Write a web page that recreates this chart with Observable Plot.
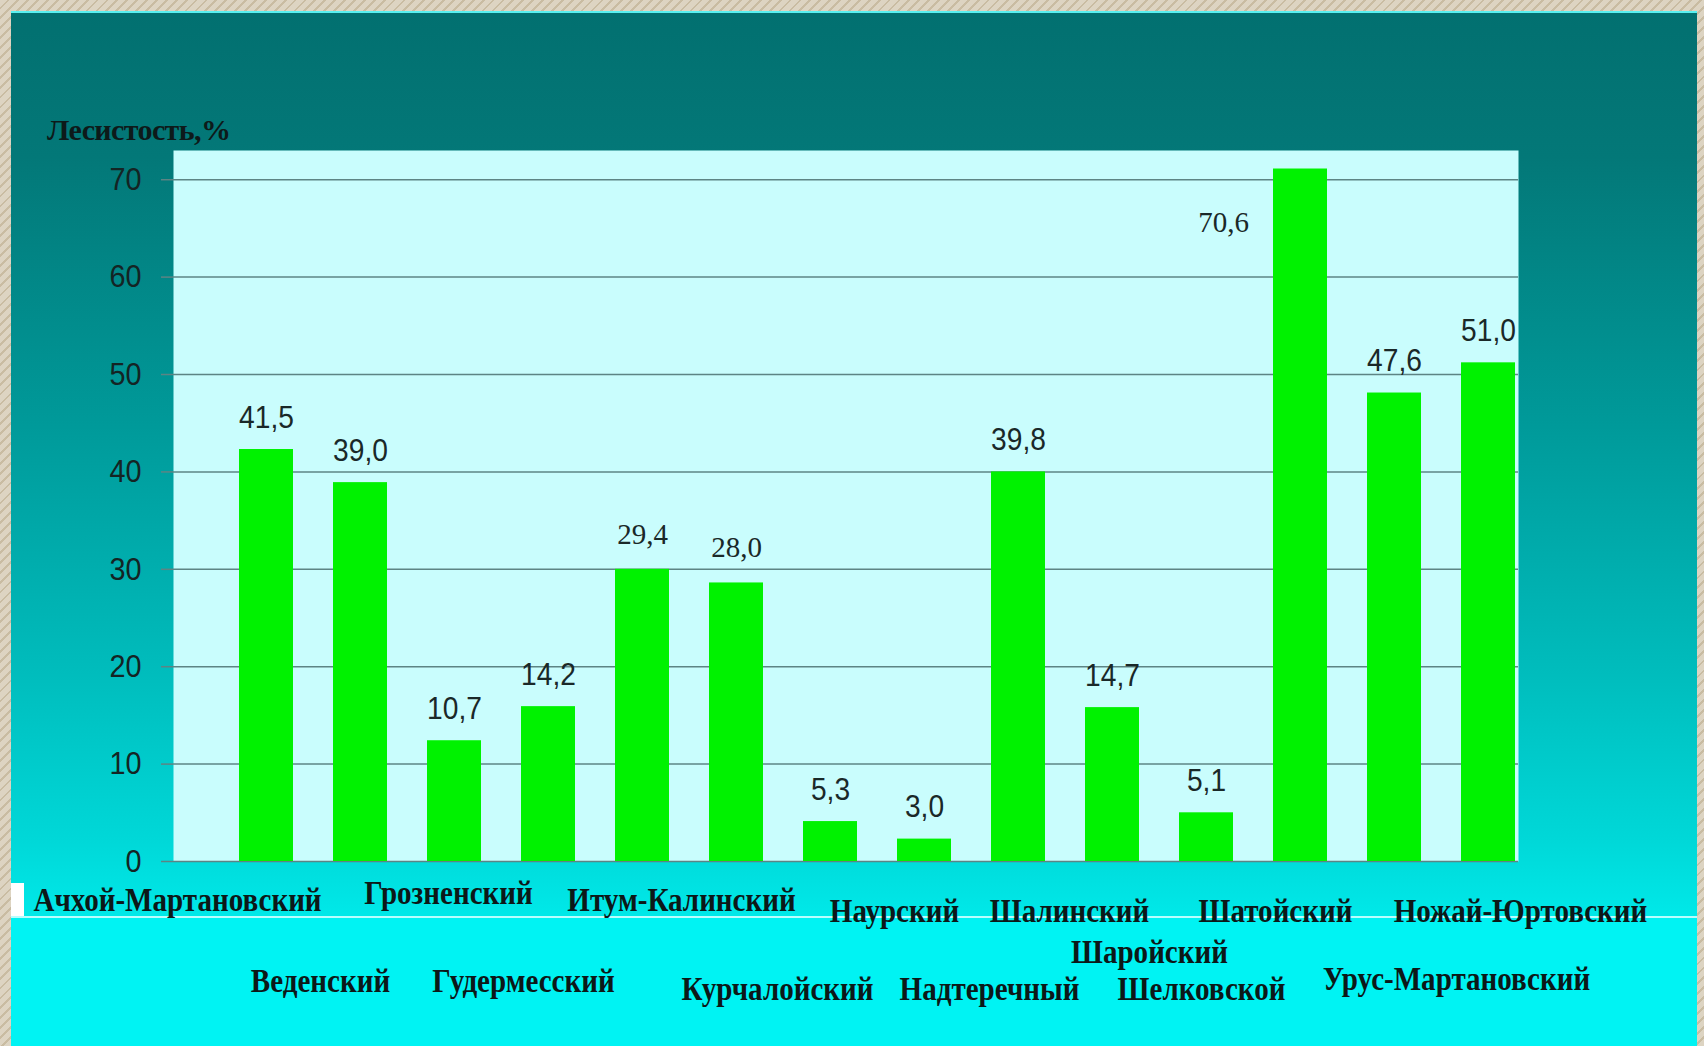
<!DOCTYPE html>
<html>
<head>
<meta charset="utf-8">
<script src="https://cdn.jsdelivr.net/npm/d3@7"></script>
<script src="https://cdn.jsdelivr.net/npm/@observablehq/plot@0.6"></script>
<style>
  html, body { margin: 0; padding: 0; }
  body {
    width: 1704px; height: 1046px; overflow: hidden; position: relative;
    background: repeating-linear-gradient(135deg, #ddd4c2 0px, #ddd4c2 5px, #c9bca2 5px, #c9bca2 7px);
  }
  #panel {
    position: absolute; left: 11px; top: 11px; width: 1686px; height: 1035px;
    background: linear-gradient(180deg, #027070 0%, #037878 14%, #009a9a 40%, #00bdbd 64%, #00d8d8 80%, #00e8e8 87%);
    border-top: 2px solid rgba(255,255,255,0.35);
  }
  #band {
    position: absolute; left: 11px; top: 916px; width: 1686px; height: 130px;
    background: #00f3f3; border-top: 2px solid rgba(230,255,255,0.8);
  }
  #chip { position: absolute; left: 11px; top: 883px; width: 13px; height: 33px; background: #ffffff; }
  #ytitle {
    position: absolute; left: 47px; top: 115px;
    font-family: "Liberation Serif", serif; font-weight: bold; font-size: 30px; line-height: 1;
    color: #0d1a1a; letter-spacing: -0.6px;
  }
  #chart { position: absolute; left: 0; top: 0; }
</style>
</head>
<body>
<div id="panel"></div>
<div id="band"></div>
<div id="chip"></div>
<div id="chart"></div>
<div id="ytitle"></div>
<script>
// ---- data ----
const districts = ["Ачхой-Мартановский","Веденский","Грозненский","Гудермесский","Итум-Калинский","Курчалойский","Наурский","Надтеречный","Шалинский","Шаройский","Шелковской","Шатойский","Урус-Мартановский","Ножай-Юртовский"];
const barHeights = [42.3, 38.9, 12.4, 15.9, 30.0, 28.6, 4.1, 2.3, 40.0, 15.8, 5.0, 71.1, 48.1, 51.2];
const valueLabels = ["41,5","39,0","10,7","14,2","29,4","28,0","5,3","3,0","39,8","14,7","5,1","70,6","47,6","51,0"];
const yTicks = [0, 10, 20, 30, 40, 50, 60, 70];
const yTitle = "Лесистость,%";

const data = districts.map((d, i) => ({district: d, height: barHeights[i], label: valueLabels[i]}));
const peak = d3.max(barHeights);

document.getElementById("ytitle").textContent = yTitle;

// staggered category-label nudges [dx, dy from the baseline]
const labelNudge = {
  "Ачхой-Мартановский": [-89, 39], "Веденский": [-40, 120], "Грозненский": [-6, 32], "Гудермесский": [-25, 120],
  "Итум-Калинский": [39, 39], "Курчалойский": [41, 128], "Наурский": [64, 50], "Надтеречный": [65, 128],
  "Шалинский": [51, 50], "Шаройский": [37, 91], "Шелковской": [-5, 128], "Шатойский": [-25, 50],
  "Урус-Мартановский": [62, 118], "Ножай-Юртовский": [32, 50]
};
const serifValues = new Set(["Итум-Калинский", "Курчалойский"]);

const sans = "'Liberation Sans', Arial, sans-serif";
const serif = "'Liberation Serif', serif";

const catLabelMarks = districts.map(d => Plot.text([d], {
  x: v => v, y: () => 0, text: v => v,
  dx: labelNudge[d][0], dy: labelNudge[d][1],
  fontFamily: serif, fontWeight: "bold", fontSize: 33, fill: "#0c1818"
}));

const chart = Plot.plot({
  width: 1704, height: 1046,
  marginLeft: 173, marginRight: 186, marginTop: 150, marginBottom: 185,
  style: {background: "transparent", overflow: "visible"},
  x: {domain: districts, paddingInner: 0.425, paddingOuter: 0.2125, insetLeft: 45, insetRight: -18, axis: null},
  y: {domain: [0, 73], axis: null},
  marks: [
    Plot.frame({fill: "#c9fdfd", stroke: null}),
    Plot.gridY(yTicks, {stroke: "#5d8484", strokeOpacity: 1, strokeWidth: 1.5}),
    Plot.axisY(yTicks, {
      tickSize: 12, tickPadding: 20, stroke: "#5d8484", strokeWidth: 1.5,
      fontFamily: sans, fontSize: 32, fill: "#142424", label: null, tickFormat: d => String(d)
    }),
    Plot.barY(data, {x: "district", y: "height", fill: "#00f200"}),
    Plot.text(data.filter(d => !serifValues.has(d.district) && d.height !== peak), {
      x: "district", y: "height", text: "label", dy: -32,
      fontFamily: sans, fontSize: 32, fill: "#1a2828"
    }),
    Plot.text(data.filter(d => serifValues.has(d.district)), {
      x: "district", y: "height", text: "label", dy: -35,
      fontFamily: serif, fontSize: 29, fill: "#1a2828"
    }),
    Plot.text(data.filter(d => d.height === peak), {
      x: "district", y: "height", text: "label", dx: -77, dy: 54,
      fontFamily: serif, fontSize: 29, fill: "#1a2828"
    }),
    ...catLabelMarks
  ]
});
document.getElementById("chart").appendChild(chart);

// horizontally condense glyphs like the narrow fonts of the original
function condense(textEls, k) {
  textEls.forEach(t => {
    const L = t.getComputedTextLength();
    if (L > 0) {
      t.setAttribute("textLength", (L * k).toFixed(1));
      t.setAttribute("lengthAdjust", "spacingAndGlyphs");
    }
  });
}
const textGroups = Array.from(chart.querySelectorAll('g[aria-label="text"]'));
// order: sans value labels, serif value labels, peak label, then category labels
condense(Array.from(textGroups[0].querySelectorAll("text")), 0.88);
textGroups.slice(3).forEach(g => condense(Array.from(g.querySelectorAll("text")), 0.88));
const yTickGroup = chart.querySelector('g[aria-label="y-axis tick label"]');
if (yTickGroup) condense(Array.from(yTickGroup.querySelectorAll("text")), 0.9);
</script>
</body>
</html>
